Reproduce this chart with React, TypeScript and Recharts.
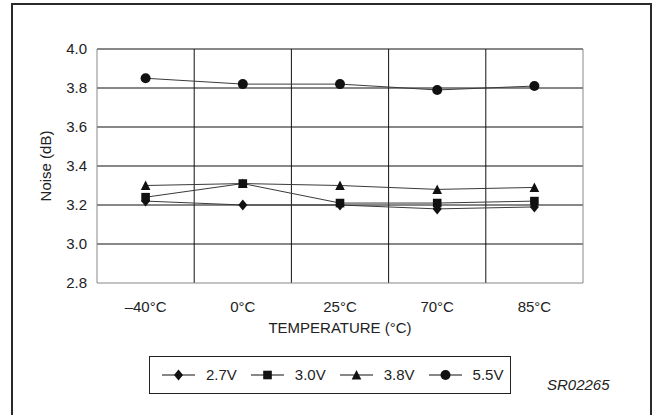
import React from 'react';
import { LineChart, Line, XAxis, YAxis, ReferenceLine } from 'recharts';

// Noise figure vs. temperature for four supply voltages
const categories = ['\u201340\u00b0C', '0\u00b0C', '25\u00b0C', '70\u00b0C', '85\u00b0C'];
const noise27V = [3.22, 3.2, 3.2, 3.18, 3.19];
const noise30V = [3.24, 3.31, 3.21, 3.21, 3.22];
const noise38V = [3.3, 3.31, 3.3, 3.28, 3.29];
const noise55V = [3.85, 3.82, 3.82, 3.79, 3.81];
const yTicks = [2.8, 3.0, 3.2, 3.4, 3.6, 3.8, 4.0];
const gridRows = [3.0, 3.2, 3.4, 3.6, 3.8, 4.0];
const bandEdges = [1, 2, 3, 4];

const seriesNames = ['2.7V', '3.0V', '3.8V', '5.5V'];

// each category sits in the middle of its own band on a 0..5 number axis
const data = categories.map((cat, i) => ({
  pos: i + 0.5,
  cat,
  v27: noise27V[i],
  v30: noise30V[i],
  v38: noise38V[i],
  v55: noise55V[i],
}));

const FONT = '"Liberation Sans", Arial, sans-serif';
const INK = '#111';
const LINE = '#3a3a3a';

type Shape = 'diamond' | 'square' | 'triangle' | 'circle';

const marker = (shape: Shape, cx: number, cy: number, key?: React.Key) => {
  switch (shape) {
    case 'diamond':
      return <polygon key={key} points={`${cx},${cy - 5.5} ${cx + 4.5},${cy} ${cx},${cy + 5.5} ${cx - 4.5},${cy}`} fill={INK} />;
    case 'square':
      return <rect key={key} x={cx - 4.3} y={cy - 4.3} width={8.6} height={8.6} fill={INK} />;
    case 'triangle':
      return <polygon key={key} points={`${cx},${cy - 5} ${cx + 4.8},${cy + 4.5} ${cx - 4.8},${cy + 4.5}`} fill={INK} />;
    default:
      return <circle key={key} cx={cx} cy={cy} r={5} fill={INK} />;
  }
};

const shapes: Shape[] = ['diamond', 'square', 'triangle', 'circle'];

const dotFor = (shape: Shape) => (p: any) => marker(shape, p.cx, p.cy, `${shape}-${p.index}`);

const YLabel = (props: any) => {
  const vb = props.viewBox || {};
  const cy = (vb.y ?? 49) + (vb.height ?? 234) / 2;
  const cx = 45.5;
  return (
    <text
      x={cx}
      y={cy}
      transform={`rotate(-90, ${cx}, ${cy})`}
      textAnchor="middle"
      dominantBaseline="central"
      fontFamily={FONT}
      fontSize={15}
      fill="#222"
    >
      Noise (dB)
    </text>
  );
};

const LegendIcon = ({ shape }: { shape: Shape }) => (
  <svg width={33} height={16} style={{ display: 'block' }}>
    <line x1={0} y1={8} x2={33} y2={8} stroke={INK} strokeWidth={1.2} />
    {marker(shape, 16.5, 8)}
  </svg>
);

export default function App() {
  return (
    <div style={{ position: 'absolute', left: 0, top: 0, width: 654, height: 415, background: '#fff', overflow: 'hidden' }}>
      {/* outer frame */}
      <div
        style={{
          position: 'absolute',
          left: 11,
          top: 3,
          width: 641,
          height: 430,
          border: '2px solid #2a2a2a',
          boxSizing: 'border-box',
        }}
      />
      <div style={{ position: 'absolute', left: 0, top: 0 }}>
        <LineChart width={654} height={415} data={data} margin={{ top: 49, right: 71, bottom: 77, left: 0 }}>
          <XAxis
            dataKey="pos"
            type="number"
            domain={[0, 5]}
            ticks={data.map((d) => d.pos)}
            tickFormatter={(v: number) => categories[Math.floor(v)]}
            tickLine={false}
            tickSize={0}
            tickMargin={18}
            height={55}
            axisLine={{ stroke: '#888', strokeWidth: 1 }}
            tick={{ fill: '#222', fontSize: 15, fontFamily: FONT }}
            label={{
              value: 'TEMPERATURE (\u00b0C)',
              position: 'insideBottom',
              offset: 5,
              fill: '#222',
              fontSize: 15,
              fontFamily: FONT,
            }}
          />
          <YAxis
            type="number"
            domain={[2.8, 4.0]}
            ticks={yTicks}
            tickFormatter={(v: number) => v.toFixed(1)}
            tickLine={false}
            tickSize={0}
            tickMargin={10}
            width={97}
            axisLine={{ stroke: '#888', strokeWidth: 1 }}
            tick={{ fill: '#222', fontSize: 15, fontFamily: FONT }}
            label={<YLabel />}
          />
          {gridRows.map((v) => (
            <ReferenceLine key={`h${v}`} y={v} stroke={INK} strokeWidth={1} />
          ))}
          {bandEdges.map((v) => (
            <ReferenceLine key={`v${v}`} x={v} stroke={INK} strokeWidth={1} />
          ))}
          <ReferenceLine x={5} stroke="#888" strokeWidth={1} />
          <Line dataKey="v27" name={seriesNames[0]} stroke={LINE} strokeWidth={1} dot={dotFor('diamond')} activeDot={false} isAnimationActive={false} />
          <Line dataKey="v30" name={seriesNames[1]} stroke={LINE} strokeWidth={1} dot={dotFor('square')} activeDot={false} isAnimationActive={false} />
          <Line dataKey="v38" name={seriesNames[2]} stroke={LINE} strokeWidth={1} dot={dotFor('triangle')} activeDot={false} isAnimationActive={false} />
          <Line dataKey="v55" name={seriesNames[3]} stroke={LINE} strokeWidth={1} dot={dotFor('circle')} activeDot={false} isAnimationActive={false} />
        </LineChart>
      </div>
      {/* legend box */}
      <div
        style={{
          position: 'absolute',
          left: 149,
          top: 356,
          width: 362,
          height: 38,
          border: '1px solid #222',
          boxSizing: 'border-box',
          display: 'flex',
          alignItems: 'center',
          paddingLeft: 12,
          fontFamily: FONT,
          fontSize: 15,
          color: '#222',
        }}
      >
        {seriesNames.map((name, i) => (
          <div key={name} style={{ display: 'flex', alignItems: 'center', marginRight: 14 }}>
            <LegendIcon shape={shapes[i]} />
            <span style={{ marginLeft: 11, lineHeight: '16px' }}>{name}</span>
          </div>
        ))}
      </div>
      <div
        style={{
          position: 'absolute',
          left: 547,
          top: 376,
          fontFamily: FONT,
          fontSize: 15,
          fontStyle: 'italic',
          color: '#222',
          lineHeight: '17px',
        }}
      >
        SR02265
      </div>
    </div>
  );
}
